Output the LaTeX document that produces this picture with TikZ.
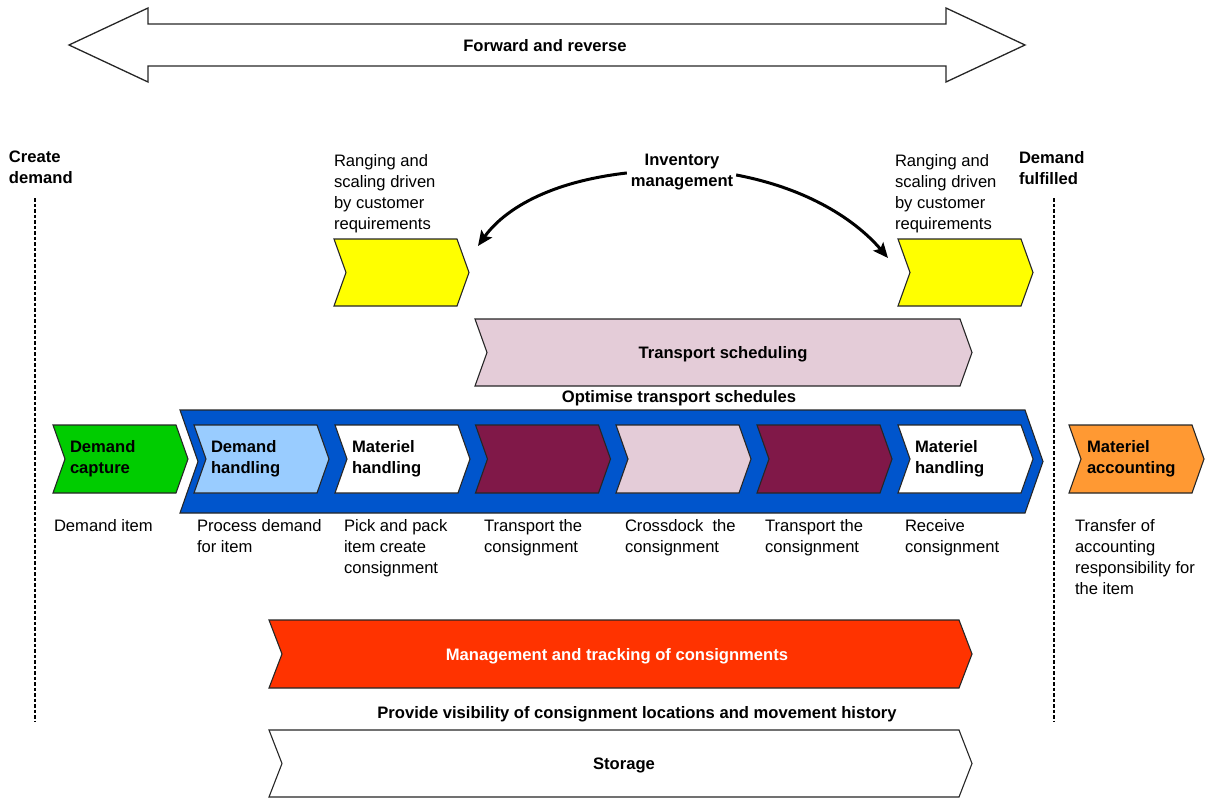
\documentclass[tikz,border=0pt]{standalone}
\usepackage{fontspec}
\setmainfont{Liberation Sans}
\usetikzlibrary{arrows.meta}
\definecolor{cgreen}{RGB}{0,204,0}
\definecolor{clblue}{RGB}{153,204,255}
\definecolor{cmaroon}{RGB}{128,24,72}
\definecolor{cpink}{RGB}{228,204,216}
\definecolor{cyellow}{RGB}{255,255,0}
\definecolor{corange}{RGB}{255,153,51}
\definecolor{cred}{RGB}{255,51,0}
\definecolor{cblue}{RGB}{0,85,204}
\newcommand\chevshape[6]{%
  \draw[#1] (#2,#3) -- ++(#4-#6,0) -- ++(#6,#5/2) -- ++(-#6,#5/2) -- ++(-#4+#6,0) -- ++(#6,-#5/2) -- cycle;}
\tikzset{
  shp/.style={draw=black!85, line width=1.1pt, line join=miter},
  txt/.style={inner sep=0pt, outer sep=0pt, font=\fontsize{16.6}{21}\selectfont},
  btxt/.style={txt, font=\fontsize{16.6}{21}\selectfont\bfseries},
  ml/.style={align=left, anchor=north west},
  divider/.style={line width=2.8pt, dash pattern=on 3.5pt off 2pt},
  curv/.style={line width=3pt, -{Stealth[length=15pt,width=13pt,inset=3pt]}}
}
\begin{document}
\begin{tikzpicture}[x=1pt,y=-1pt]
\useasboundingbox (0,0) rectangle (1205,800);
% top double arrow
\draw[shp, line width=1.3pt] (69,45) -- (148,8) -- (148,24) -- (946,24) -- (946,8) -- (1025,45) -- (946,82) -- (946,66) -- (148,66) -- (148,82) -- cycle;
\node[btxt, anchor=base] (fr) at (545,52) {Forward and reverse};
% side labels and dividers
\node[btxt, ml] (cd) at (9,151) {Create\\demand};
\node[btxt, ml] (df) at (1019,151) {Demand\\fulfilled};
\coordinate (d1a) at (35,198); \coordinate (d1b) at (35,722);
\coordinate (d2a) at (1054,198); \coordinate (d2b) at (1054,722);
\draw[divider] (d1a) -- (d1b);
\draw[divider] (d2a) -- (d2b);
% ranging
\node[txt, ml] (rgl) at (334,154) {Ranging and\\scaling driven\\by customer\\requirements};
\node[txt, ml] (rgr) at (895,154) {Ranging and\\scaling driven\\by customer\\requirements};
\chevshape{shp, fill=cyellow}{334}{239}{135}{67}{12}
\chevshape{shp, fill=cyellow}{898}{239}{135}{67}{12}
\node[btxt, align=center, anchor=north] (inv) at (682,154) {Inventory\\management};
\coordinate (ya) at (478,246);
\coordinate (yb) at (888,258);
\draw[curv] (inv.west) ++(-4,1) .. controls (540,183) and (500,215) .. (ya);
\draw[curv] (inv.east) ++(3,3) .. controls (815,190) and (860,225) .. (yb);
% transport scheduling
\chevshape{shp, fill=cpink}{475}{319}{497}{67}{12}
\node[btxt, anchor=base] (ts) at (723,358) {Transport scheduling};
\node[btxt, anchor=base] (ots) at (679,402) {Optimise transport schedules};
% blue band
\chevshape{shp, fill=cblue}{180}{410}{863}{103}{18}
% row chevrons
\chevshape{shp, fill=cgreen}{53}{425}{135}{68}{12}
\chevshape{shp, fill=clblue}{194}{425}{135}{68}{12}
\chevshape{shp, fill=white}{335}{425}{135}{68}{12}
\chevshape{shp, fill=cmaroon}{475.5}{425}{135}{68}{12}
\chevshape{shp, fill=cpink}{616}{425}{135}{68}{12}
\chevshape{shp, fill=cmaroon}{757}{425}{135}{68}{12}
\chevshape{shp, fill=white}{898}{425}{135}{68}{12}
\chevshape{shp, fill=corange}{1069}{425}{135}{68}{12}
\node[btxt, ml] (c1) at (70,440) {Demand\\capture};
\node[btxt, ml] (c2) at (211,440) {Demand\\handling};
\node[btxt, ml] (c3) at (352,440) {Materiel\\handling};
\node[btxt, ml] (c7) at (915,440) {Materiel\\handling};
\node[btxt, ml] (c8) at (1087,440) {Materiel\\accounting};
% labels below
\node[txt, ml] (l1) at (54,519) {Demand item};
\node[txt, ml] (l2) at (197,519) {Process demand\\for item};
\node[txt, ml] (l3) at (344,519) {Pick and pack\\item create\\consignment};
\node[txt, ml] (l4) at (484,519) {Transport the\\consignment};
\node[txt, ml] (l5) at (625,519) {Crossdock\ \ the\\consignment};
\node[txt, ml] (l6) at (765,519) {Transport the\\consignment};
\node[txt, ml] (l7) at (905,519) {Receive\\consignment};
\node[txt, ml] (l8) at (1075,519) {Transfer of\\accounting\\responsibility for\\the item};
% bottom bands
\chevshape{shp, fill=cred}{269}{620}{703}{68}{13}
\node[btxt, anchor=base, text=white] (mt) at (617,660) {Management and tracking of consignments};
\node[btxt, anchor=base] (pv) at (637,718) {Provide visibility of consignment locations and movement history};
\chevshape{shp, fill=white}{269}{730}{703}{67}{13}
\node[btxt, anchor=base] (st) at (624,769) {Storage};
\end{tikzpicture}
\end{document}
